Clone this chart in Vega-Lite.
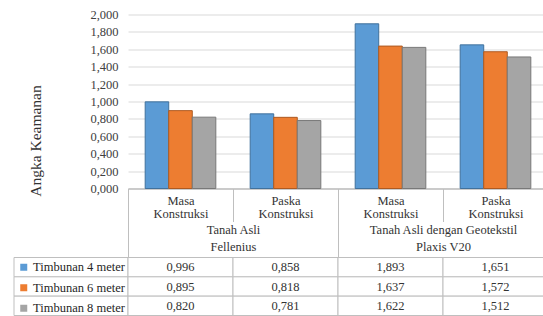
{
  "$schema": "https://vega.github.io/schema/vega-lite/v6.json",
  "padding": {"top": 8.5, "left": 13, "right": 0, "bottom": 0},
  "background": "white",
  "data": {"values": [
    {"metode": "Fellenius", "kolom": "Fellenius: Masa Konstruksi", "timbunan": "Timbunan 4 meter", "nilai": 0.996},
    {"metode": "Fellenius", "kolom": "Fellenius: Masa Konstruksi", "timbunan": "Timbunan 6 meter", "nilai": 0.895},
    {"metode": "Fellenius", "kolom": "Fellenius: Masa Konstruksi", "timbunan": "Timbunan 8 meter", "nilai": 0.820},
    {"metode": "Fellenius", "kolom": "Fellenius: Paska Konstruksi", "timbunan": "Timbunan 4 meter", "nilai": 0.858},
    {"metode": "Fellenius", "kolom": "Fellenius: Paska Konstruksi", "timbunan": "Timbunan 6 meter", "nilai": 0.818},
    {"metode": "Fellenius", "kolom": "Fellenius: Paska Konstruksi", "timbunan": "Timbunan 8 meter", "nilai": 0.781},
    {"metode": "Plaxis V20", "kolom": "Plaxis V20: Masa Konstruksi", "timbunan": "Timbunan 4 meter", "nilai": 1.893},
    {"metode": "Plaxis V20", "kolom": "Plaxis V20: Masa Konstruksi", "timbunan": "Timbunan 6 meter", "nilai": 1.637},
    {"metode": "Plaxis V20", "kolom": "Plaxis V20: Masa Konstruksi", "timbunan": "Timbunan 8 meter", "nilai": 1.622},
    {"metode": "Plaxis V20", "kolom": "Plaxis V20: Paska Konstruksi", "timbunan": "Timbunan 4 meter", "nilai": 1.651},
    {"metode": "Plaxis V20", "kolom": "Plaxis V20: Paska Konstruksi", "timbunan": "Timbunan 6 meter", "nilai": 1.572},
    {"metode": "Plaxis V20", "kolom": "Plaxis V20: Paska Konstruksi", "timbunan": "Timbunan 8 meter", "nilai": 1.512}
  ]},
  "columns": 2,
  "spacing": {"row": 69, "column": 0},
  "bounds": "flush",
  "concat": [
    {
      "width": 114, "height": 174,
      "mark": {"type": "point", "opacity": 0},
      "encoding": {}
    },
    {
      "width": 420, "height": 174,
      "layer": [
        {
          "mark": {"type": "bar", "strokeWidth": 1},
          "encoding": {
            "x": {"field": "kolom", "type": "nominal", "sort": null,
              "scale": {"paddingInner": 0, "paddingOuter": 0},
              "axis": {"orient": "bottom", "title": null, "labelAngle": 0,
                "labelExpr": "datum.label ? split(split(datum.label, ': ')[1], ' ') : ''",
                "tickBand": "extent", "tickSize": 33, "tickColor": "#BFBFBF", "domainColor": "#BFBFBF",
                "labelPadding": -27.5, "labelBaseline": "top", "labelLineHeight": 13,
                "labelFont": "Liberation Serif", "labelFontSize": 12.5, "labelColor": "#333333"}},
            "xOffset": {"field": "timbunan", "type": "nominal", "sort": null,
              "scale": {"paddingInner": 0, "paddingOuter": 0.73}},
            "y": {"field": "nilai", "type": "quantitative",
              "scale": {"domain": [0, 2]},
              "axis": {"title": "Angka Keamanan", "format": ".3f",
                "values": [0, 0.2, 0.4, 0.6, 0.8, 1, 1.2, 1.4, 1.6, 1.8, 2],
                "ticks": false, "domain": false, "labelPadding": 10,
                "gridColor": "#D9D9D9", "labelFont": "Liberation Serif", "labelFontSize": 12.5, "labelColor": "#404040",
                "titleFont": "Liberation Serif", "titleFontSize": 15.5, "titleFontWeight": "normal", "titleColor": "#333333",
                "titleX": -93, "titleY": 126, "titleBaseline": "middle", "titleAngle": -90}},
            "color": {"field": "timbunan", "type": "nominal", "sort": null,
              "scale": {"range": ["#5B9BD5", "#ED7D31", "#A5A5A5"]},
              "legend": {"orient": "none", "legendX": 3.5, "legendY": 246.5, "title": null,
                "symbolType": "square", "symbolSize": 49, "symbolStrokeWidth": 0, "symbolOpacity": 1,
                "labelFont": "Liberation Serif", "labelFontSize": 12.5, "labelColor": "#262626",
                "labelOffset": 3, "rowPadding": 7.5, "padding": 0}},
            "stroke": {"field": "timbunan", "type": "nominal", "sort": null,
              "scale": {"range": ["#41719C", "#AE5A21", "#787878"]}, "legend": null}
          }
        },
        {
          "mark": {"type": "rule", "opacity": 0},
          "encoding": {
            "x": {"field": "metode", "type": "nominal", "sort": null,
              "scale": {"paddingInner": 0, "paddingOuter": 0},
              "axis": {"orient": "bottom", "title": null, "labelAngle": 0,
                "labelExpr": "!datum.label ? '' : datum.label == 'Fellenius' ? ['Tanah Asli', 'Fellenius'] : ['Tanah Asli dengan Geotekstil', 'Plaxis V20']",
                "tickBand": "extent", "tickSize": 70, "tickColor": "#BFBFBF", "domainColor": "#BFBFBF",
                "labelPadding": -35, "labelBaseline": "top", "labelLineHeight": 16.5,
                "labelFont": "Liberation Serif", "labelFontSize": 12.5, "labelColor": "#333333"}}
          }
        }
      ],
      "resolve": {"scale": {"x": "independent"}, "axis": {"x": "independent"}}
    },
    {
      "width": 114, "height": 58,
      "transform": [{"filter": {"field": "kolom", "equal": "Fellenius: Masa Konstruksi"}}],
      "mark": {"type": "rect", "fill": "white", "stroke": "#BFBFBF", "strokeWidth": 1},
      "encoding": {
        "y": {"field": "timbunan", "type": "nominal", "sort": null, "axis": null,
          "scale": {"paddingInner": 0, "paddingOuter": 0}}
      }
    },
    {
      "width": 420, "height": 58,
      "layer": [
        {
          "mark": {"type": "rect", "fill": "white", "stroke": "#BFBFBF", "strokeWidth": 1},
          "encoding": {
            "x": {"field": "kolom", "type": "nominal", "sort": null, "axis": null,
              "scale": {"paddingInner": 0, "paddingOuter": 0}},
            "y": {"field": "timbunan", "type": "nominal", "sort": null, "axis": null,
              "scale": {"paddingInner": 0, "paddingOuter": 0}}
          }
        },
        {
          "mark": {"type": "text", "font": "Liberation Serif", "fontSize": 12.5, "color": "#333333"},
          "encoding": {
            "x": {"field": "kolom", "type": "nominal", "sort": null, "axis": null},
            "y": {"field": "timbunan", "type": "nominal", "sort": null, "axis": null},
            "text": {"field": "nilai", "type": "quantitative", "format": ".3f"}
          }
        }
      ]
    }
  ],
  "config": {
    "font": "Liberation Serif",
    "axis": {"labelFont": "Liberation Serif", "titleFont": "Liberation Serif"},
    "legend": {"labelFont": "Liberation Serif"},
    "text": {"font": "Liberation Serif"},
    "view": {"stroke": null},
    "locale": {"number": {"decimal": ",", "thousands": ".", "grouping": [3], "currency": ["", ""]}}
  }
}
